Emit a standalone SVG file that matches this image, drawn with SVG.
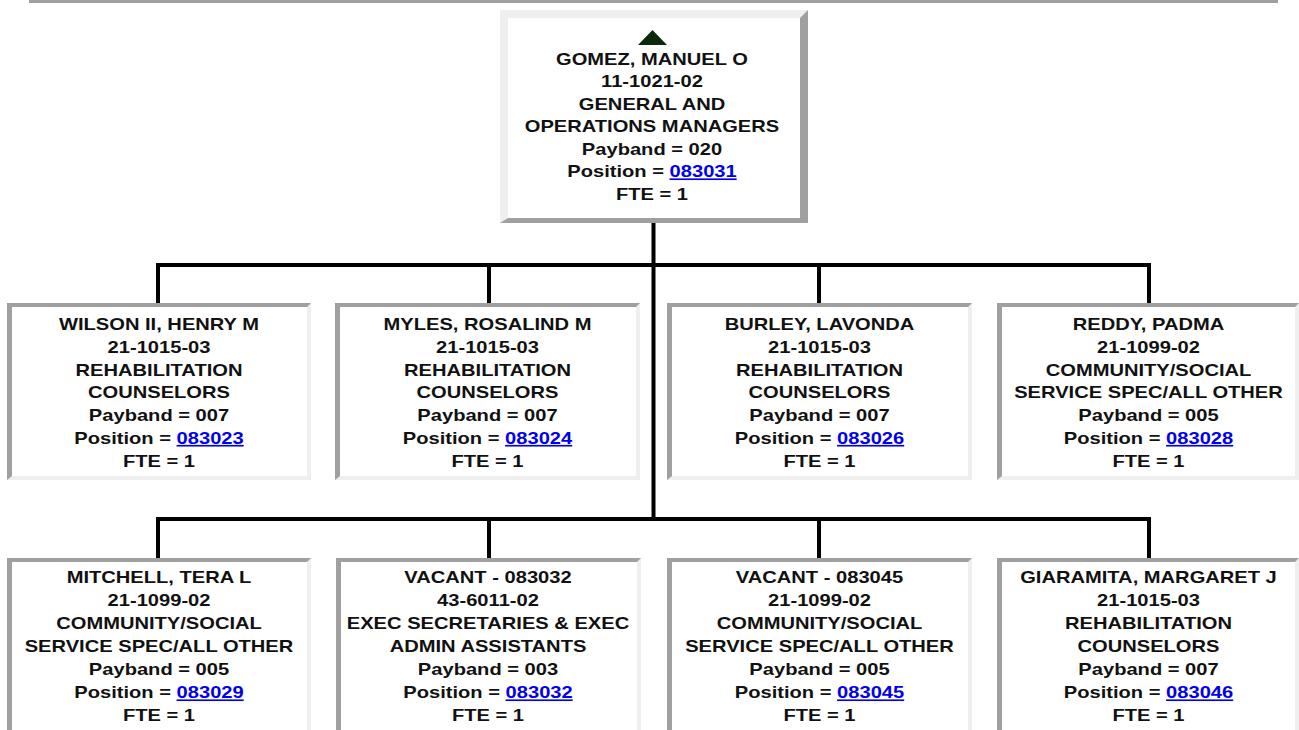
<svg xmlns="http://www.w3.org/2000/svg" width="1299" height="730" viewBox="0 0 1299 730">
<style>
.t{font-family:"Liberation Sans",Arial,sans-serif;font-weight:bold;font-size:16.5px;fill:#111;text-anchor:middle}
.lk{fill:#0000ee;text-decoration:underline}
.dk{fill:#a0a0a0}
.lt{fill:#efefef}
.wh{fill:#ffffff}
.cn{fill:none;stroke:#000;stroke-width:4;stroke-linejoin:miter}
</style>
<rect width="1299" height="730" fill="#fff"/>
<rect x="29" y="0" width="1249" height="3" fill="#a0a0a0"/>
<g id="connectors">
<path class="cn" d="M653.5,223 V519"/>
<path class="cn" d="M158,303 V265 H1149 V303 M489,265 V303 M819,265 V303"/>
<path class="cn" d="M158,558 V519 H1149 V558 M489,519 V558 M819,519 V558"/>
</g>
<g id="n-gomez">
<rect x="500" y="10" width="308" height="213" class="dk"/>
<polygon points="500,10 808,10 800,18 508,18 508,218 500,223" class="lt"/>
<rect x="508" y="18" width="292" height="200" class="wh"/>
<polygon points="652.5,30 638,45 667,45" fill="#0a2a0a"/>
<g transform="translate(652 0) scale(1.22 1)" class="t">
<text class="t" x="0" y="65">GOMEZ, MANUEL O</text>
<text class="t" x="0" y="87.5">11-1021-02</text>
<text class="t" x="0" y="110">GENERAL AND</text>
<text class="t" x="0" y="132.5">OPERATIONS MANAGERS</text>
<text class="t" x="0" y="155">Payband = 020</text>
<text class="t" x="0" y="177.5">Position = <tspan class="lk">083031</tspan></text>
<text class="t" x="0" y="200">FTE = 1</text>
</g>
</g>
<g id="n-wilson">
<rect x="7" y="303" width="304" height="177" class="lt"/>
<polygon points="7,303 311,303 307,307 12,307 12,476 7,480" class="dk"/>
<rect x="12" y="307" width="295" height="169" class="wh"/>
<g transform="translate(159 0) scale(1.22 1)">
<text class="t" x="0" y="330">WILSON II, HENRY M</text>
<text class="t" x="0" y="352.8">21-1015-03</text>
<text class="t" x="0" y="375.6">REHABILITATION</text>
<text class="t" x="0" y="398.4">COUNSELORS</text>
<text class="t" x="0" y="421.2">Payband = 007</text>
<text class="t" x="0" y="444">Position = <tspan class="lk">083023</tspan></text>
<text class="t" x="0" y="466.8">FTE = 1</text>
</g>
</g>
<g id="n-myles">
<rect x="335" y="303" width="305" height="177" class="lt"/>
<polygon points="335,303 640,303 636,307 340,307 340,476 335,480" class="dk"/>
<rect x="340" y="307" width="296" height="169" class="wh"/>
<g transform="translate(487.5 0) scale(1.22 1)">
<text class="t" x="0" y="330">MYLES, ROSALIND M</text>
<text class="t" x="0" y="352.8">21-1015-03</text>
<text class="t" x="0" y="375.6">REHABILITATION</text>
<text class="t" x="0" y="398.4">COUNSELORS</text>
<text class="t" x="0" y="421.2">Payband = 007</text>
<text class="t" x="0" y="444">Position = <tspan class="lk">083024</tspan></text>
<text class="t" x="0" y="466.8">FTE = 1</text>
</g>
</g>
<g id="n-burley">
<rect x="667" y="303" width="305" height="177" class="lt"/>
<polygon points="667,303 972,303 968,307 672,307 672,476 667,480" class="dk"/>
<rect x="672" y="307" width="296" height="169" class="wh"/>
<g transform="translate(819.5 0) scale(1.22 1)">
<text class="t" x="0" y="330">BURLEY, LAVONDA</text>
<text class="t" x="0" y="352.8">21-1015-03</text>
<text class="t" x="0" y="375.6">REHABILITATION</text>
<text class="t" x="0" y="398.4">COUNSELORS</text>
<text class="t" x="0" y="421.2">Payband = 007</text>
<text class="t" x="0" y="444">Position = <tspan class="lk">083026</tspan></text>
<text class="t" x="0" y="466.8">FTE = 1</text>
</g>
</g>
<g id="n-reddy">
<rect x="997" y="303" width="302" height="177" class="lt"/>
<polygon points="997,303 1299,303 1295,307 1002,307 1002,476 997,480" class="dk"/>
<rect x="1002" y="307" width="293" height="169" class="wh"/>
<g transform="translate(1148.5 0) scale(1.22 1)">
<text class="t" x="0" y="330">REDDY, PADMA</text>
<text class="t" x="0" y="352.8">21-1099-02</text>
<text class="t" x="0" y="375.6">COMMUNITY/SOCIAL</text>
<text class="t" x="0" y="398.4">SERVICE SPEC/ALL OTHER</text>
<text class="t" x="0" y="421.2">Payband = 005</text>
<text class="t" x="0" y="444">Position = <tspan class="lk">083028</tspan></text>
<text class="t" x="0" y="466.8">FTE = 1</text>
</g>
</g>
<g id="n-mitchell">
<rect x="7" y="558" width="304" height="177" class="lt"/>
<polygon points="7,558 311,558 307,562 12,562 12,731 7,735" class="dk"/>
<rect x="12" y="562" width="295" height="169" class="wh"/>
<g transform="translate(159 0) scale(1.22 1)">
<text class="t" x="0" y="583.5">MITCHELL, TERA L</text>
<text class="t" x="0" y="606.5">21-1099-02</text>
<text class="t" x="0" y="629.5">COMMUNITY/SOCIAL</text>
<text class="t" x="0" y="652.5">SERVICE SPEC/ALL OTHER</text>
<text class="t" x="0" y="675.5">Payband = 005</text>
<text class="t" x="0" y="698.5">Position = <tspan class="lk">083029</tspan></text>
<text class="t" x="0" y="721.5">FTE = 1</text>
</g>
</g>
<g id="n-vacant-083032">
<rect x="336" y="558" width="305" height="177" class="lt"/>
<polygon points="336,558 641,558 637,562 341,562 341,731 336,735" class="dk"/>
<rect x="341" y="562" width="296" height="169" class="wh"/>
<g transform="translate(488 0) scale(1.22 1)">
<text class="t" x="0" y="583.5">VACANT - 083032</text>
<text class="t" x="0" y="606.5">43-6011-02</text>
<text class="t" x="0" y="629.5">EXEC SECRETARIES &amp; EXEC</text>
<text class="t" x="0" y="652.5">ADMIN ASSISTANTS</text>
<text class="t" x="0" y="675.5">Payband = 003</text>
<text class="t" x="0" y="698.5">Position = <tspan class="lk">083032</tspan></text>
<text class="t" x="0" y="721.5">FTE = 1</text>
</g>
</g>
<g id="n-vacant-083045">
<rect x="667" y="558" width="305" height="177" class="lt"/>
<polygon points="667,558 972,558 968,562 672,562 672,731 667,735" class="dk"/>
<rect x="672" y="562" width="296" height="169" class="wh"/>
<g transform="translate(819.5 0) scale(1.22 1)">
<text class="t" x="0" y="583.5">VACANT - 083045</text>
<text class="t" x="0" y="606.5">21-1099-02</text>
<text class="t" x="0" y="629.5">COMMUNITY/SOCIAL</text>
<text class="t" x="0" y="652.5">SERVICE SPEC/ALL OTHER</text>
<text class="t" x="0" y="675.5">Payband = 005</text>
<text class="t" x="0" y="698.5">Position = <tspan class="lk">083045</tspan></text>
<text class="t" x="0" y="721.5">FTE = 1</text>
</g>
</g>
<g id="n-giaramita">
<rect x="997" y="558" width="302" height="177" class="lt"/>
<polygon points="997,558 1299,558 1295,562 1002,562 1002,731 997,735" class="dk"/>
<rect x="1002" y="562" width="293" height="169" class="wh"/>
<g transform="translate(1148.5 0) scale(1.22 1)">
<text class="t" x="0" y="583.5">GIARAMITA, MARGARET J</text>
<text class="t" x="0" y="606.5">21-1015-03</text>
<text class="t" x="0" y="629.5">REHABILITATION</text>
<text class="t" x="0" y="652.5">COUNSELORS</text>
<text class="t" x="0" y="675.5">Payband = 007</text>
<text class="t" x="0" y="698.5">Position = <tspan class="lk">083046</tspan></text>
<text class="t" x="0" y="721.5">FTE = 1</text>
</g>
</g>
</svg>
